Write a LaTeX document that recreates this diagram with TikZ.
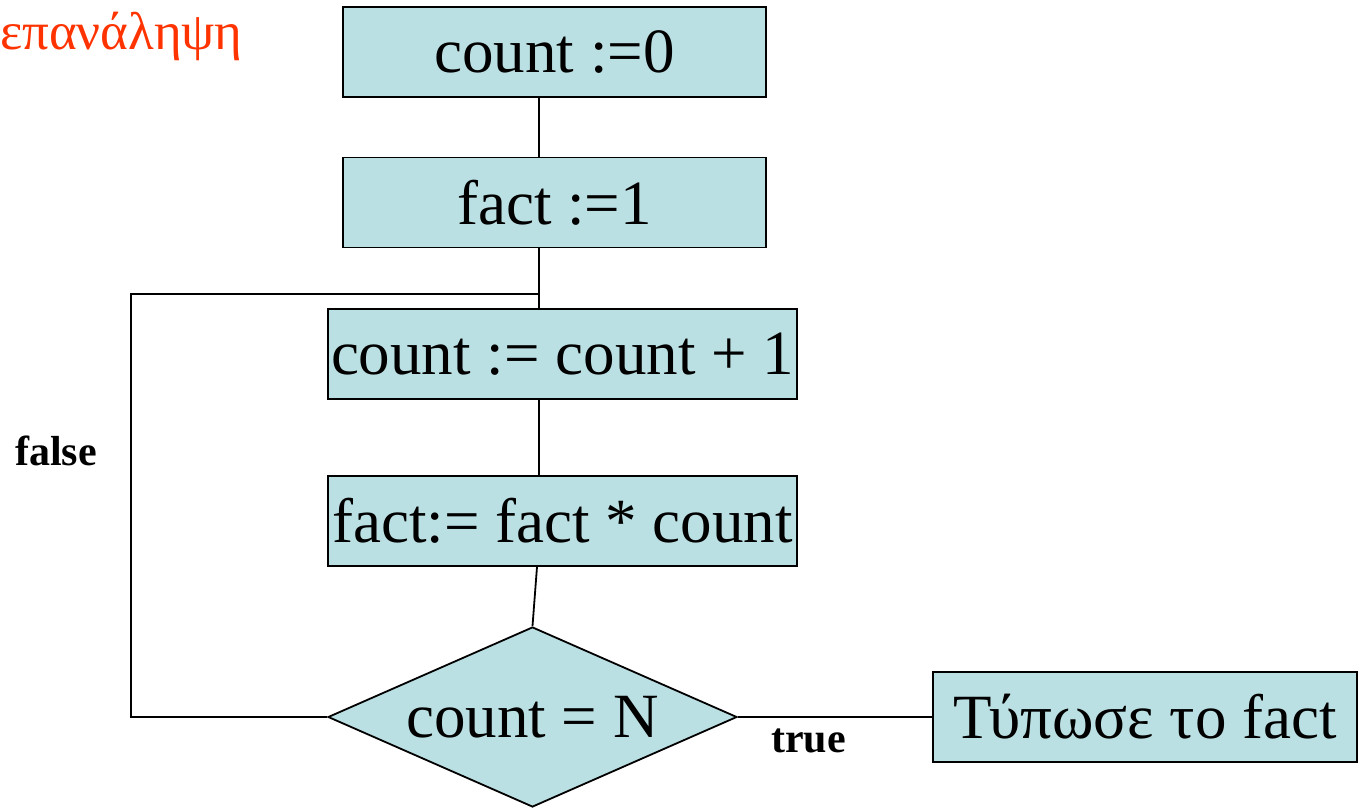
\documentclass[tikz,border=0pt]{standalone}
\usepackage{fontspec}
\setmainfont{Liberation Serif}
\usetikzlibrary{shapes.geometric}
\definecolor{boxfill}{HTML}{BBE0E3}
\definecolor{titlered}{HTML}{FF3300}
\tikzset{
  stepbox/.style={draw=black, fill=boxfill, line width=1.8pt, inner sep=0pt,
    minimum height=90pt, font=\fontsize{63}{70}\selectfont},
  testbox/.style={diamond, draw=black, fill=boxfill, line width=1.8pt, inner sep=0pt,
    aspect=2.27, minimum width=409pt, minimum height=180pt,
    font=\fontsize{63}{70}\selectfont},
  flow/.style={draw=black, line width=1.8pt},
  branch/.style={font=\fontsize{42}{46}\selectfont\bfseries, inner sep=0pt},
}
\begin{document}
\begin{tikzpicture}[x=1pt, y=-1pt]
\useasboundingbox (0,0) rectangle (1365,808);

% heading
\node[anchor=base west, inner sep=0pt, text=titlered,
      font=\fontsize{53}{58}\selectfont] (title) at (0,50) {επανάληψη};

% process steps
\node[stepbox, minimum width=423pt] (init1) at (554.5,52) {count :=0};
\node[stepbox, minimum width=423pt] (init2) at (554.5,202.5) {fact :=1};
\node[stepbox, minimum width=469pt] (inc)   at (562.5,354) {count := count + 1};
\node[stepbox, minimum width=469pt] (mul)   at (562.5,521) {fact:= fact * count};
\node[testbox] (test) at (532.5,717) {count = N};
\node[stepbox, minimum width=424pt] (out)   at (1145,717) {Τύπωσε το fact};

% loop corners
\coordinate (join) at (539,294);
\coordinate (lowleft) at (131,717);
\coordinate (upleft) at (131,294);

% connectors
\draw[flow] (init1.south -| join) -- (init2.north -| join);
\draw[flow] (init2.south -| join) -- (inc.north -| join);
\draw[flow] (inc.south -| join) -- (mul.north -| join);
\draw[flow] ([xshift=-25.5pt]mul.south) -- (test.north);
\draw[flow] (test.west) -- (lowleft) -- (upleft) -- (join);
\draw[flow] (test.east) -- (out.west);

% branch labels
\node[branch, anchor=base west] (lfalse) at (15,465) {false};
\node[branch, anchor=base west] (ltrue) at (771,752) {true};
\end{tikzpicture}
\end{document}
